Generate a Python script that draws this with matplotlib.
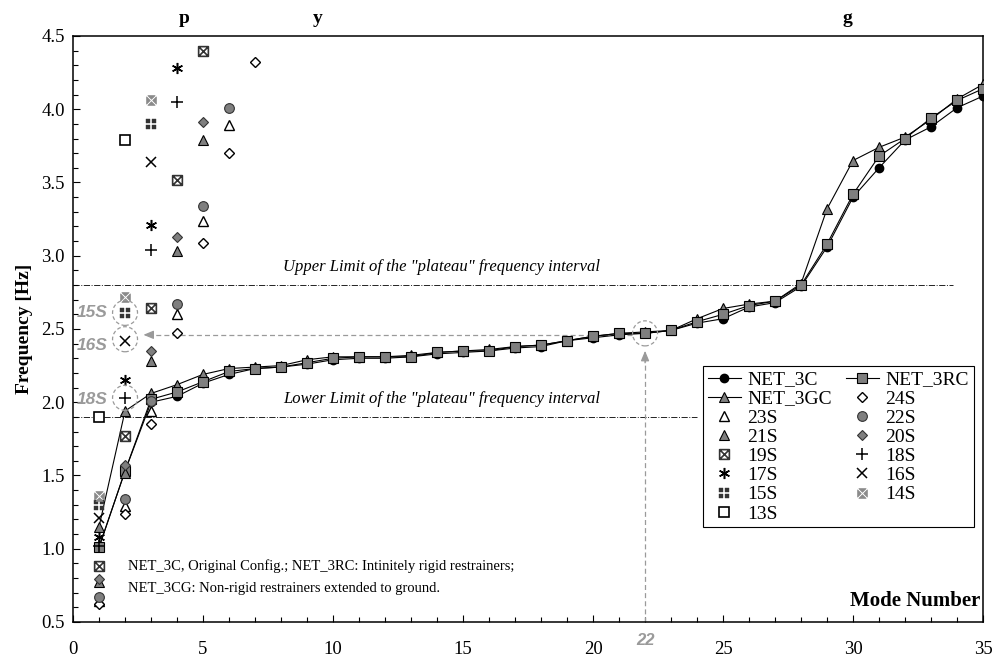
import numpy as np
import matplotlib
matplotlib.use("Agg")
import matplotlib.pyplot as plt
from matplotlib.path import Path
from matplotlib.patches import Ellipse
from matplotlib.ticker import MultipleLocator

plt.rcParams['font.family'] = ['Liberation Serif', 'DejaVu Serif']
plt.rcParams['mathtext.fontset'] = 'stix'

# modal frequencies [Hz] for modes 1..35
modes = np.arange(1, 36)
net_3c = [1.01, 1.53, 2.00, 2.04, 2.13, 2.19, 2.23, 2.24, 2.26, 2.29, 2.30, 2.30,
          2.31, 2.33, 2.34, 2.35, 2.37, 2.38, 2.42, 2.44, 2.46, 2.47, 2.49, 2.54,
          2.57, 2.65, 2.68, 2.79, 3.06, 3.40, 3.60, 3.79, 3.88, 4.01, 4.09]
net_3rc = [1.01, 1.53, 2.02, 2.07, 2.14, 2.21, 2.23, 2.24, 2.27, 2.30, 2.31, 2.31,
           2.31, 2.34, 2.35, 2.35, 2.38, 2.39, 2.42, 2.45, 2.47, 2.47, 2.49, 2.55,
           2.60, 2.66, 2.69, 2.80, 3.08, 3.42, 3.68, 3.80, 3.94, 4.06, 4.14]
net_3gc = [1.15, 1.94, 2.06, 2.12, 2.19, 2.23, 2.24, 2.25, 2.29, 2.31, 2.31, 2.31,
           2.32, 2.34, 2.35, 2.36, 2.38, 2.39, 2.42, 2.45, 2.47, 2.48, 2.49, 2.57,
           2.64, 2.67, 2.69, 2.81, 3.32, 3.65, 3.74, 3.81, 3.93, 4.07, 4.17]

# single-span string frequencies (first modes)
s13 = [1.90, 3.79]
s14 = [1.36, 2.72, 4.06]
s15 = [1.30, 2.61, 3.90]
s16 = [1.21, 2.42, 3.64]
s17 = [1.08, 2.15, 3.21, 4.28]
s18 = [1.02, 2.03, 3.04, 4.05]
s19 = [0.88, 1.77, 2.64, 3.52, 4.40]
s20 = [0.79, 1.57, 2.35, 3.13, 3.91]
s21 = [0.77, 1.52, 2.28, 3.03, 3.79]
s22 = [0.67, 1.34, 2.01, 2.67, 3.34, 4.01]
s23 = [0.64, 1.29, 1.94, 2.60, 3.24, 3.89]
s24 = [0.62, 1.24, 1.85, 2.47, 3.09, 3.70, 4.32]

upper_limit = 2.80
lower_limit = 1.90

# custom markers
M, L, C = Path.MOVETO, Path.LINETO, Path.CLOSEPOLY
box_x = Path([(-1, -1), (1, -1), (1, 1), (-1, 1), (-1, -1),
              (-1, -1), (1, 1), (-1, 1), (1, -1)],
             [M, L, L, L, C, M, L, M, L])
g = 0.22
four_sq_v, four_sq_c = [], []
for sx in (-1, 1):
    for sy in (-1, 1):
        four_sq_v += [(sx * g, sy * g), (sx, sy * g), (sx, sy), (sx * g, sy), (sx * g, sy * g)]
        four_sq_c += [M, L, L, L, C]
four_sq = Path(four_sq_v, four_sq_c)
t = 0.25
tri_v, tri_c = [], []
for ang in (0, 90, 180, 270):
    r = np.deg2rad(ang)
    rot = np.array([[np.cos(r), -np.sin(r)], [np.sin(r), np.cos(r)]])
    pts = [(-1 + t, 1), (1 - t, 1), (0, t), (-1 + t, 1)]
    pts = [tuple(rot @ np.array(p)) for p in pts]
    tri_v += pts
    tri_c += [M, L, L, C]
four_tri = Path(tri_v, tri_c)

gray = '#7f7f7f'

fig = plt.figure(figsize=(9.95, 6.64), dpi=100)
ax = fig.add_axes([0.0734, 0.0633, 0.9146, 0.8825])

ax.plot(modes, net_3c, '-', color='black', lw=0.8, marker='o', ms=6,
        mfc='black', mec='black', label='NET_3C', zorder=3)
ax.plot(modes, net_3gc, '-', color='black', lw=0.8, marker='^', ms=7,
        mfc=gray, mec='black', mew=0.8, label='NET_3GC', zorder=3)

sc = dict(ls='none', zorder=5)
ax.plot(np.arange(1, len(s23) + 1), s23, marker='^', ms=6.5, mfc='white', mec='black', mew=1, label='23S', **sc)
ax.plot(np.arange(1, len(s21) + 1), s21, marker='^', ms=6.5, mfc=gray, mec='black', mew=0.8, label='21S', **sc)
ax.plot(np.arange(1, len(s19) + 1), s19, marker=box_x, ms=7, mfc='white', mec='#333333', mew=1.2, label='19S', **sc)
ax.plot(np.arange(1, len(s17) + 1), s17, marker=(6, 2, 0), ms=8, color='black', mew=1.1, label='17S', **sc)
ax.plot(np.arange(1, len(s15) + 1), s15, marker=four_sq, ms=7, mfc='#333333', mec='#333333', mew=0.3, label='15S', **sc)
ax.plot(np.arange(1, len(s13) + 1), s13, marker='s', ms=7, mfc='white', mec='black', mew=1.2, label='13S', **sc)

ax.plot(modes, net_3rc, '-', color='black', lw=0.8, marker='s', ms=6.5,
        mfc=gray, mec='black', mew=0.8, label='NET_3RC', zorder=3)
ax.plot(np.arange(1, len(s24) + 1), s24, marker='D', ms=5, mfc='white', mec='black', mew=1, label='24S', **sc)
ax.plot(np.arange(1, len(s22) + 1), s22, marker='o', ms=7, mfc=gray, mec='#333333', mew=0.8, label='22S', **sc)
ax.plot(np.arange(1, len(s20) + 1), s20, marker='D', ms=5.5, mfc=gray, mec='#333333', mew=0.8, label='20S', **sc)
ax.plot(np.arange(1, len(s18) + 1), s18, marker='+', ms=8, color='black', mew=1.1, label='18S', **sc)
ax.plot(np.arange(1, len(s16) + 1), s16, marker='x', ms=7, color='black', mew=1.1, label='16S', **sc)
ax.plot(np.arange(1, len(s14) + 1), s14, marker=four_tri, ms=7, mfc='#8a8a8a', mec='#8a8a8a', mew=0.5, label='14S', **sc)

# plateau limits
ax.plot([0, 33.85], [upper_limit, upper_limit], color='#222222', lw=0.7, ls='-.', zorder=1)
ax.plot([0, 24.0], [lower_limit, lower_limit], color='#222222', lw=0.7, ls='-.', zorder=1)
ax.text(8.07, upper_limit + 0.07, 'Upper Limit of the "plateau" frequency interval',
        style='italic', fontsize=12, va='bottom', ha='left')
ax.text(8.07, lower_limit + 0.07, 'Lower Limit of the "plateau" frequency interval',
        style='italic', fontsize=12, va='bottom', ha='left')

# highlighted modes
agray = '#9a9a9a'
for (cx, cy) in [(2, 2.61), (2, 2.43), (2, 2.03), (22, 2.47)]:
    ax.add_patch(Ellipse((cx, cy), 0.96, 0.171, fill=False, ec=agray, lw=0.9, ls=(0, (3, 2)), zorder=6))
lab = dict(color=agray, fontsize=12.5, fontweight='bold', style='italic',
           family=['Liberation Sans', 'DejaVu Sans'], ha='center', va='center')
ax.text(0.73, 2.61, '15S', **lab)
ax.text(0.75, 2.39, '16S', **lab)
ax.text(0.75, 2.02, '18S', **lab)

ax.plot([22, 22], [0.5, 2.30], color=agray, lw=0.9, ls=(0, (4, 2.5)), zorder=2)
ax.annotate('', xy=(22, 2.37), xytext=(22, 2.25),
            arrowprops=dict(arrowstyle='-|>,head_length=0.6,head_width=0.25', color=agray, lw=0.9))
ax.plot([21.5, 2.9], [2.46, 2.46], color=agray, lw=0.9, ls=(0, (4, 2.5)), zorder=2)
ax.annotate('', xy=(2.6, 2.46), xytext=(3.1, 2.46),
            arrowprops=dict(arrowstyle='-|>,head_length=0.6,head_width=0.25', color=agray, lw=0.9))
ax.annotate('22', xy=(22, 0), xycoords=('data', 'axes fraction'), xytext=(0, -13),
            textcoords='offset points', ha='center', va='center', color=agray,
            fontsize=12, fontweight='bold', style='italic', family=['Liberation Sans', 'DejaVu Sans'])

ax.text(2.1, 0.88, 'NET_3C, Original Config.; NET_3RC: Intinitely rigid restrainers;',
        fontsize=10.5, va='center')
ax.text(2.1, 0.73, 'NET_3CG: Non-rigid restrainers extended to ground.',
        fontsize=10.5, va='center')

# letters above the plot
for xl, s in [(4.27, 'p'), (9.42, 'y'), (29.8, 'g')]:
    ax.text(xl, 4.62, s, fontsize=14, fontweight='bold', ha='center', va='center', clip_on=False)

ax.text(0.997, 0.035, 'Mode Number', transform=ax.transAxes, fontsize=15,
        fontweight='bold', ha='right', va='center')
ax.set_ylabel('Frequency [Hz]', fontsize=14, fontweight='bold', labelpad=6)

ax.set_xlim(0, 35)
ax.set_ylim(0.5, 4.5)
ax.xaxis.set_major_locator(MultipleLocator(5))
ax.xaxis.set_minor_locator(MultipleLocator(1))
ax.yaxis.set_major_locator(MultipleLocator(0.5))
ax.yaxis.set_minor_locator(MultipleLocator(0.1))
ax.yaxis.set_major_formatter(matplotlib.ticker.FormatStrFormatter('%.1f'))
ax.tick_params(which='both', direction='in', top=False, right=False, labelsize=13.5)
ax.tick_params(which='major', length=5, width=0.8)
ax.tick_params(which='minor', length=3.5, width=0.8)
ax.tick_params(axis='x', pad=14)
ax.tick_params(axis='y', pad=6)
for sp in ax.spines.values():
    sp.set_linewidth(1.1)

leg = ax.legend(ncol=2, loc='upper left', bbox_to_anchor=(0.692, 0.437), fontsize=14,
                frameon=True, fancybox=False, edgecolor='black', framealpha=1,
                labelspacing=0.08, handlelength=1.7, handletextpad=0.35,
                columnspacing=0.7, borderpad=0.25, borderaxespad=0)
leg.get_frame().set_linewidth(0.8)

fig.savefig('out.png', dpi=100)
